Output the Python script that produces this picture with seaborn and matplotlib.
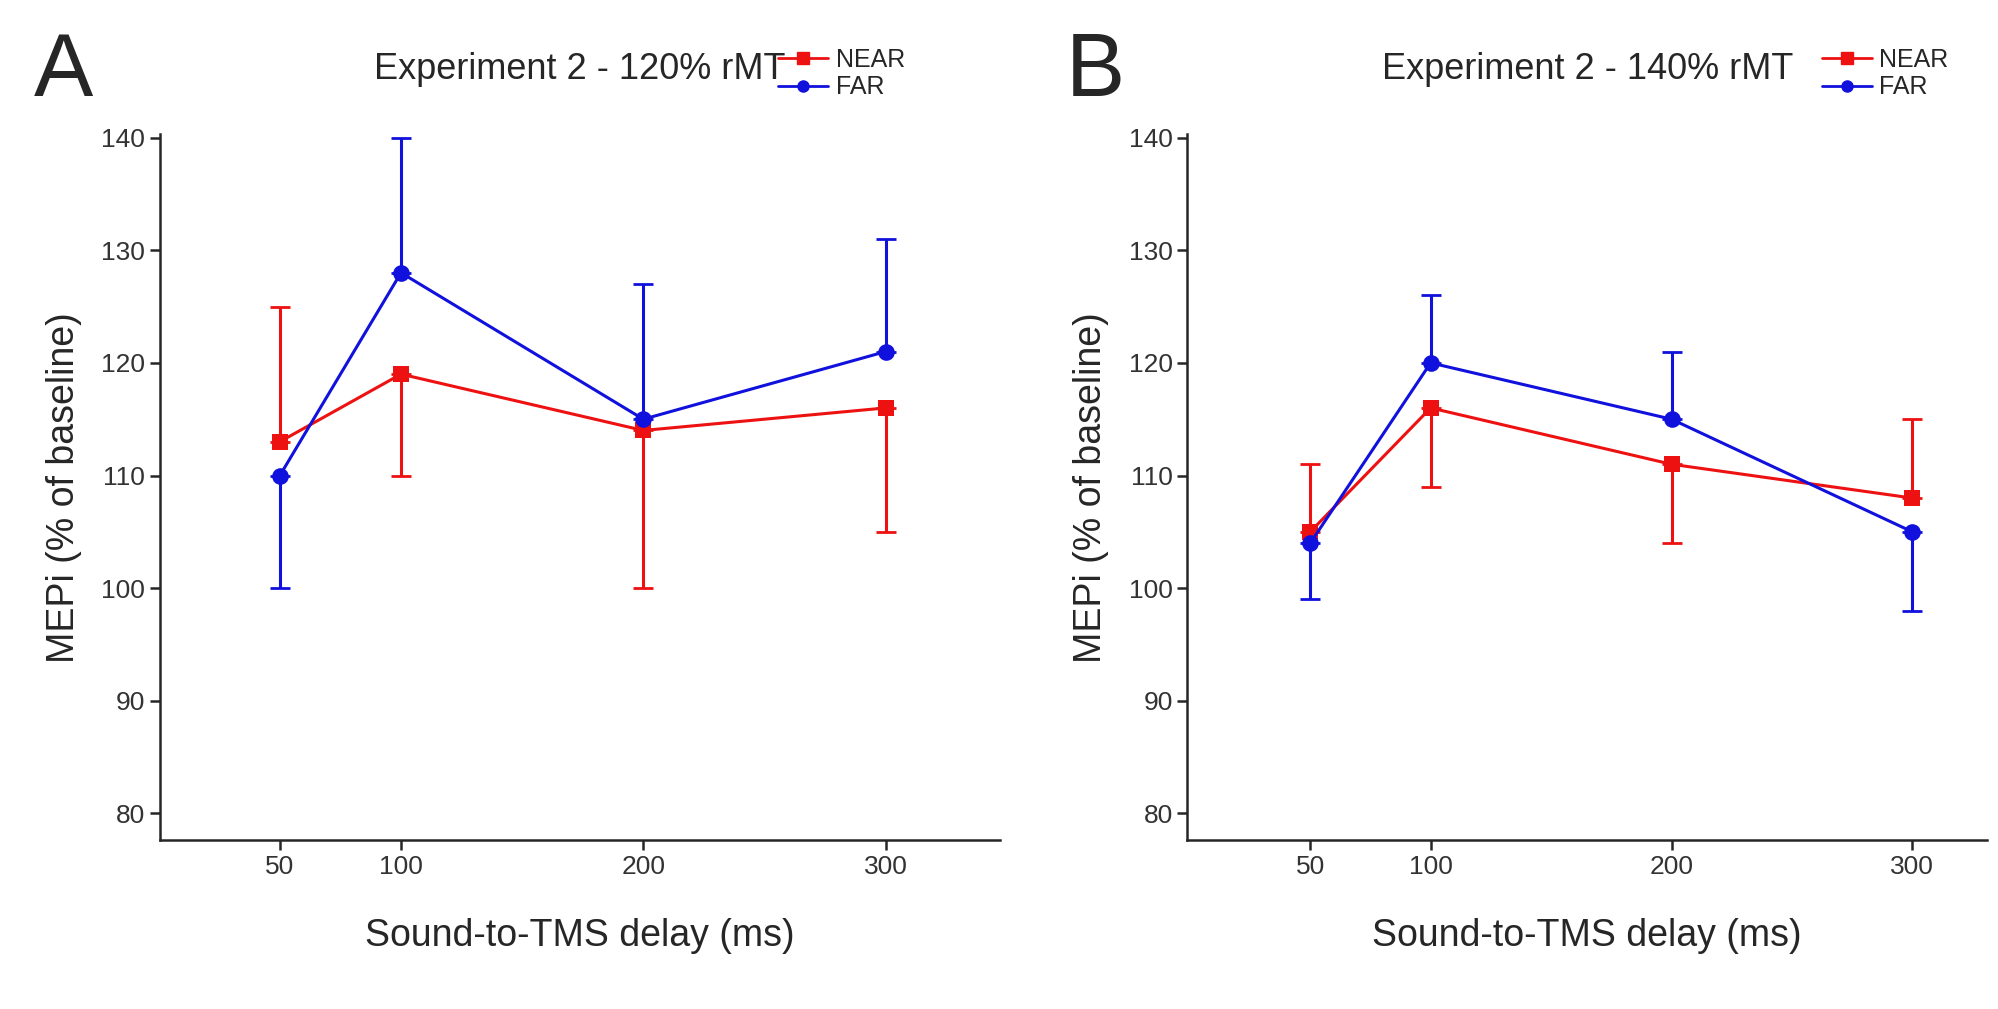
import matplotlib
matplotlib.use("Agg")
import matplotlib.pyplot as plt
from matplotlib.lines import Line2D
import seaborn as sns
import pandas as pd

delays = [50, 100, 200, 300]
near_A = [113, 119, 114, 116]
near_A_lo = [0, 9, 14, 11]
near_A_hi = [12, 0, 0, 0]
far_A = [110, 128, 115, 121]
far_A_lo = [10, 0, 0, 0]
far_A_hi = [0, 12, 12, 10]
near_B = [105, 116, 111, 108]
near_B_lo = [0, 7, 7, 0]
near_B_hi = [6, 0, 0, 7]
far_B = [104, 120, 115, 105]
far_B_lo = [5, 0, 0, 7]
far_B_hi = [0, 6, 6, 0]
titles = ["Experiment 2 - 120% rMT", "Experiment 2 - 140% rMT"]
letters = ["A", "B"]

sns.set_style("ticks")
plt.rcParams['font.family'] = ['Liberation Sans', 'DejaVu Sans']
fig = plt.figure(figsize=(19.99, 10.09), dpi=100)
axes = [fig.add_axes([0.080, 0.167, 0.420, 0.70]), fig.add_axes([0.594, 0.167, 0.400, 0.70])]
xlims = [(0.5, 347), (-1, 331)]
letter_x = [0.017, 0.533]
legend_x = [0.378, 0.900]
panels = [(near_A, near_A_lo, near_A_hi, far_A, far_A_lo, far_A_hi),
          (near_B, near_B_lo, near_B_hi, far_B, far_B_lo, far_B_hi)]
RED, BLUE = "#ee1111", "#1111dd"
for i, (ax, p) in enumerate(zip(axes, panels)):
    n, nlo, nhi, f, flo, fhi = p
    df = pd.DataFrame({"delay": delays * 2, "val": n + f,
                       "cond": ["NEAR"] * 4 + ["FAR"] * 4})
    ax.errorbar(delays, n, yerr=[nlo, nhi], fmt="none", ecolor=RED, elinewidth=2.2, capsize=7, capthick=2)
    ax.errorbar(delays, f, yerr=[flo, fhi], fmt="none", ecolor=BLUE, elinewidth=2.2, capsize=7, capthick=2)
    sns.lineplot(data=df, x="delay", y="val", hue="cond", style="cond",
                 palette={"NEAR": RED, "FAR": BLUE}, markers={"NEAR": "s", "FAR": "o"},
                 dashes=False, markersize=12, markeredgewidth=0, linewidth=2.2, ax=ax, legend=False)
    ax.set_xlim(*xlims[i])
    ax.set_ylim(77.6, 140.3)
    ax.set_xticks(delays)
    ax.set_yticks([80, 90, 100, 110, 120, 130, 140])
    ax.tick_params(labelsize=19, direction="out", length=7, width=1.8, labelcolor="#333333")
    for s in ["left", "bottom"]:
        ax.spines[s].set_linewidth(1.8)
    sns.despine(ax=ax)
    ax.set_xlabel("Sound-to-TMS delay (ms)", fontsize=27, labelpad=28)
    ax.set_ylabel("MEPi (% of baseline)", fontsize=27, labelpad=14)
    ax.set_title(titles[i], fontsize=26, pad=40)
    fig.text(letter_x[i], 0.905, letters[i], fontsize=64)
    handles = [Line2D([], [], color=RED, marker="s", lw=2, markersize=8),
               Line2D([], [], color=BLUE, marker="o", lw=2, markersize=8)]
    fig.legend(handles, ["NEAR", "FAR"], loc="upper left", bbox_to_anchor=(legend_x[i], 0.975),
               frameon=False, fontsize=18, handlelength=2.0, labelspacing=0.15, handletextpad=0.3)
fig.savefig("out.png", dpi=100)
